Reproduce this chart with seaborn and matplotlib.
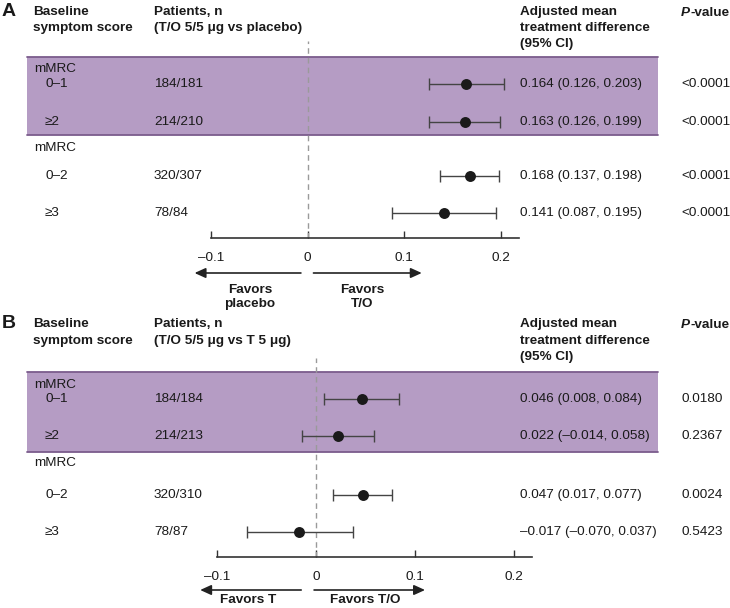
import matplotlib
matplotlib.use("Agg")
import matplotlib.pyplot as plt
import seaborn as sns
import pandas as pd
from matplotlib.patches import Rectangle
from matplotlib.lines import Line2D

# Data
subgroups = ["0–1", "≥2", "0–2", "≥3"]

a_patients = ["184/181", "214/210", "320/307", "78/84"]
a_est = [0.164, 0.163, 0.168, 0.141]
a_lo = [0.126, 0.126, 0.137, 0.087]
a_hi = [0.203, 0.199, 0.198, 0.195]
a_pvals = ["<0.0001", "<0.0001", "<0.0001", "<0.0001"]

b_patients = ["184/184", "214/213", "320/310", "78/87"]
b_est = [0.046, 0.022, 0.047, -0.017]
b_lo = [0.008, -0.014, 0.017, -0.070]
b_hi = [0.084, 0.058, 0.077, 0.037]
b_pvals = ["0.0180", "0.2367", "0.0024", "0.5423"]

xticks = [-0.1, 0, 0.1, 0.2]
xtick_labels = ["–0.1", "0", "0.1", "0.2"]

# Layout (pixels of the 730x608 canvas)
W, H = 730, 608
BAND = "#b59cc4"
BAND_EDGE = "#7b5c8c"
INK = "#1a1a1a"
FS = 9.7

LAYOUT_A = dict(head=[12, 28, 44], band=(57, 135), hdr=[69, 148],
                rows=[84, 122, 176, 213], ax_x=(211, 519), ax_y=(41, 238),
                xlim=(-0.1, 0.2186), arrow_y=273,
                left_arrow=(-0.007, -0.117), right_arrow=(0.006, 0.118),
                fav_y=297, fav_x=(250, 362))
LAYOUT_B = dict(head=[324, 341, 357], band=(372, 452), hdr=[385, 463],
                rows=[399, 436, 495, 532], ax_x=(217, 532), ax_y=(358, 557),
                xlim=(-0.1, 0.218), arrow_y=590,
                left_arrow=(-0.015, -0.117), right_arrow=(-0.002, 0.110),
                fav_y=600, fav_x=(248, 365))


def fx(x):
    return x / W


def fy(y):
    return 1 - y / H


sns.set_theme(style="white")
plt.rcParams["font.family"] = ["Liberation Sans", "DejaVu Sans"]

fig = plt.figure(figsize=(7.3, 6.08), dpi=100)


def txt(x, y, s, **kw):
    kw.setdefault("fontsize", FS)
    kw.setdefault("color", INK)
    kw.setdefault("va", "center")
    return fig.text(fx(x), fy(y), s, **kw)


def draw_panel(letter, comparator, patients, est, lo, hi, pvals, favors, lay):
    h0, h1, h2 = lay["head"]
    # headers
    txt(2, h0, letter, fontsize=14, fontweight="bold")
    txt(33, h0, "Baseline", fontweight="bold")
    txt(33, h1, "symptom score", fontweight="bold")
    txt(154, h0, "Patients, n", fontweight="bold")
    txt(154, h1, comparator, fontweight="bold")
    txt(520, h0, "Adjusted mean", fontweight="bold")
    txt(520, h1, "treatment difference", fontweight="bold")
    txt(520, h2, "(95% CI)", fontweight="bold")
    p = txt(681, h0 + 4, "P", fontweight="bold", fontstyle="italic", va="baseline")
    fig.canvas.draw()
    pb = p.get_window_extent()
    fig.text(pb.x1 / fig.dpi / fig.get_figwidth(), p.get_position()[1], "-value",
             fontsize=FS, fontweight="bold", color=INK, va="baseline")

    # shaded band for the mMRC 0-1 / >=2 split
    b0, b1 = lay["band"]
    fig.add_artist(Rectangle((fx(27), fy(b1)), fx(658 - 27), (b1 - b0) / H,
                             transform=fig.transFigure, facecolor=BAND,
                             edgecolor="none", zorder=-2))
    for yy in (b0, b1):
        fig.add_artist(Line2D([fx(27), fx(658)], [fy(yy), fy(yy)],
                              transform=fig.transFigure, color=BAND_EDGE,
                              lw=1.3, zorder=-1))

    # row texts
    for yy in lay["hdr"]:
        txt(34, yy, "mMRC")
    for yy, sg, n, e, l, u, pv in zip(lay["rows"], subgroups, patients, est, lo, hi, pvals):
        txt(45, yy, sg)
        txt(154, yy, n)
        ci = f"{e:.3f} ({l:.3f}, {u:.3f})".replace("-", "–")
        txt(520, yy, ci)
        txt(681, yy, pv)

    # forest axes
    x0, x1 = lay["ax_x"]
    y0, y1 = lay["ax_y"]
    ax = fig.add_axes([fx(x0), fy(y1), (x1 - x0) / W, (y1 - y0) / H])
    ax.patch.set_alpha(0)
    df = pd.DataFrame({"y": lay["rows"], "est": est, "lo": lo, "hi": hi})
    ax.axvline(0, color="#9a9a9a", lw=1, ls=(0, (4, 3)), zorder=1)
    ax.errorbar(df["est"], df["y"], xerr=[df["est"] - df["lo"], df["hi"] - df["est"]],
                fmt="none", ecolor="#444444", elinewidth=1, capsize=4, capthick=1,
                zorder=2)
    sns.scatterplot(data=df, x="est", y="y", s=62, color=INK, edgecolor=INK,
                    linewidth=0, ax=ax, zorder=3, legend=False)
    ax.set_xlim(lay["xlim"])
    ax.set_ylim(y1, y0)
    ax.set_xlabel("")
    ax.set_ylabel("")
    ax.set_yticks([])
    ax.set_xticks(xticks)
    ax.set_xticklabels(xtick_labels)
    sns.despine(ax=ax, left=True)
    ax.spines["bottom"].set_color("#333333")
    ax.spines["bottom"].set_linewidth(1.2)
    ax.tick_params(axis="x", bottom=True, direction="in", length=5, width=1,
                   color="#333333", pad=10, labelsize=FS, labelcolor=INK)

    # favours arrows
    ay = fy(lay["arrow_y"])
    for start, end in (lay["left_arrow"], lay["right_arrow"]):
        ax.annotate("", xy=(end, ay), xytext=(start, ay),
                    xycoords=("data", "figure fraction"),
                    textcoords=("data", "figure fraction"),
                    arrowprops=dict(arrowstyle="-|>,head_length=0.55,head_width=0.25",
                                    color="#222222", lw=1.2, shrinkA=0, shrinkB=0),
                    annotation_clip=False)
    for xx, lab in zip(lay["fav_x"], favors):
        txt(xx, lay["fav_y"], lab, ha="center", fontweight="bold", linespacing=1.25)


draw_panel("A", "(T/O 5/5 μg vs placebo)", a_patients, a_est, a_lo, a_hi, a_pvals,
           ["Favors\nplacebo", "Favors\nT/O"], LAYOUT_A)
draw_panel("B", "(T/O 5/5 μg vs T 5 μg)", b_patients, b_est, b_lo, b_hi, b_pvals,
           ["Favors T", "Favors T/O"], LAYOUT_B)

fig.savefig("out.png", dpi=100)
